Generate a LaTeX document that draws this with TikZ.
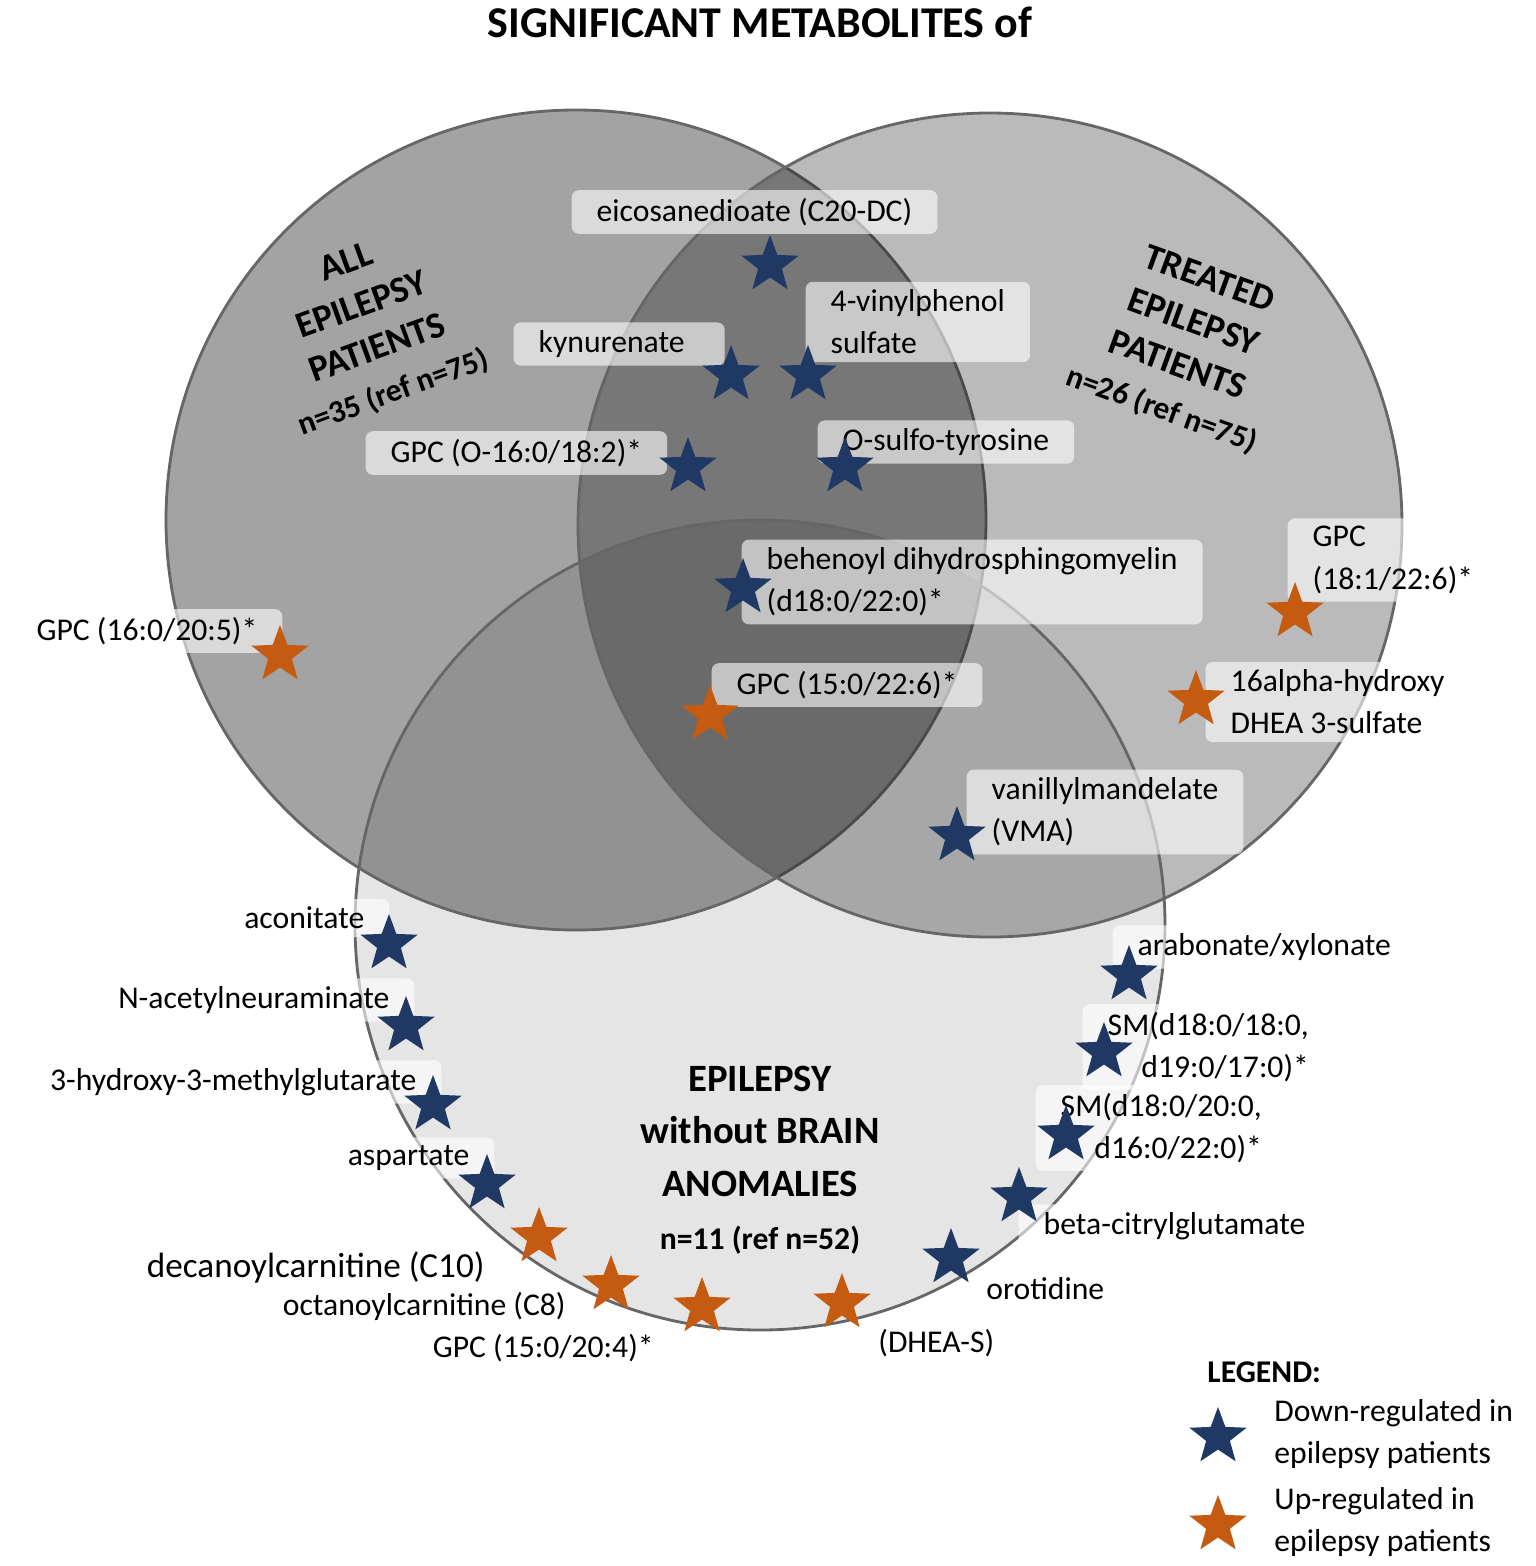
\documentclass[tikz,border=0pt]{standalone}
\usepackage{fontspec}
\setmainfont{Carlito}
\usetikzlibrary{shapes.geometric}
\definecolor{downblue}{HTML}{1F3864}
\definecolor{uporange}{HTML}{C55A11}
\tikzset{
  dstar/.style={star, star points=5, star point ratio=2.4, minimum size=0.6cm, inner sep=0pt, fill=downblue},
  ustar/.style={dstar, fill=uporange},
  lbl/.style={fill=white, fill opacity=0.6, text opacity=1, rounded corners=2pt, inner xsep=0.25cm, inner ysep=0.08cm, align=left, font=\fontsize{9}{12}\selectfont},
  txt/.style={font=\fontsize{9}{12}\selectfont, align=left},
  grp/.style={font=\fontsize{10.5}{13}\selectfont\bfseries, align=center}
}
\begin{document}
\begin{tikzpicture}[x=0.01cm,y=-0.01cm]
\useasboundingbox (0,0) rectangle (1535,1566);
\node[font=\fontsize{12.5}{14}\selectfont\bfseries] (title) at (760,22) {SIGNIFICANT METABOLITES of};

% circles
\fill[black, opacity=0.1] (760,925) circle (405);
\filldraw[fill=black, fill opacity=0.36, draw=black!60, line width=0.8pt] (576,520) circle (410);
\filldraw[fill=black, fill opacity=0.27, draw=black!60, line width=0.8pt] (990,525) circle (412);
\draw[black!60, line width=0.8pt] (760,925) circle (405);

\node[grp, rotate=20] (all) at (370,328) {ALL\\EPILEPSY\\PATIENTS\\{\fontsize{9}{11}\selectfont n=35 (ref n=75)}};
\node[grp, rotate=-20] (trt) at (1185,345) {TREATED\\EPILEPSY\\PATIENTS\\{\fontsize{9}{11}\selectfont n=26 (ref n=75)}};
\node[grp, font=\fontsize{11}{15}\selectfont\bfseries] (nba) at (760,1160) {EPILEPSY\\without BRAIN\\ANOMALIES\\{\fontsize{9}{12}\selectfont n=11 (ref n=52)}};

% labels in the circles
\node[lbl, anchor=west] (eic) at (571,212) {eicosanedioate (C20-DC)};
\node[lbl, anchor=west] (kyn) at (513,344) {kynurenate\hspace{0.15cm}};
\node[lbl, anchor=west] (vin) at (805,322) {4-vinylphenol\hspace{0.3cm}\\sulfate};
\node[lbl, anchor=west] (gpo) at (365,453) {GPC (O-16:0/18:2)*};
\node[lbl, anchor=west] (sul) at (817,442) {O-sulfo-tyrosine};
\node[lbl, anchor=west] (beh) at (741,582) {behenoyl dihydrosphingomyelin\\(d18:0/22:0)*};
\node[lbl, anchor=west] (g15) at (711,685) {GPC (15:0/22:6)*};
\node[lbl, anchor=east] (g16) at (283,631) {GPC (16:0/20:5)*};
\node[lbl, anchor=west] (g18) at (1287,560) {GPC\\(18:1/22:6)*};
\node[lbl, anchor=west] (dhe) at (1205,702) {16alpha-hydroxy\\DHEA 3-sulfate};
\node[lbl, anchor=west] (vma) at (966,812) {vanillylmandelate\\(VMA)};

\node[dstar] (s1) at (770,265) {};
\node[dstar] (s2) at (731,375) {};
\node[dstar] (s3) at (808,375) {};
\node[dstar] (s4) at (688,467) {};
\node[dstar] (s5) at (845,467) {};
\node[dstar] (s6) at (743,588) {};
\node[ustar] (s7) at (710,715) {};
\node[ustar] (s8) at (280,655) {};
\node[ustar] (s9) at (1295,612) {};
\node[ustar] (s10) at (1196,700) {};
\node[dstar] (s11) at (957,836) {};

% labels round the bottom circle
\node[lbl, anchor=east] (aco) at (390,918) {aconitate};
\node[lbl, anchor=east] (nac) at (415,1000) {N-acetylneuraminate};
\node[lbl, anchor=east] (hmg) at (442,1082) {3-hydroxy-3-methylglutarate};
\node[lbl, anchor=east] (asp) at (495,1158) {aspartate};
\node[txt, anchor=east, font=\fontsize{10}{12}\selectfont] (c10) at (497,1267) {decanoylcarnitine (C10)};
\node[txt, anchor=east] (c8) at (578,1306) {octanoylcarnitine (C8)};
\node[txt, anchor=east] (g20) at (666,1348) {GPC (15:0/20:4)*};
\node[txt, anchor=west] (dhs) at (866,1343) {(DHEA-S)};
\node[txt, anchor=west] (oro) at (974,1289) {orotidine};
\node[lbl, anchor=west] (cit) at (1018,1226) {beta-citrylglutamate};
\node[lbl, anchor=west, align=right] (sm2) at (1035,1128) {SM(d18:0/20:0,\\d16:0/22:0)*};
\node[lbl, anchor=west, align=right] (sm1) at (1082,1047) {SM(d18:0/18:0,\\d19:0/17:0)*};
\node[lbl, anchor=west] (ara) at (1112,947) {arabonate/xylonate};

\node[dstar] (b1) at (389,944) {};
\node[dstar] (b2) at (406,1026) {};
\node[dstar] (b3) at (433,1105) {};
\node[dstar] (b4) at (487,1184) {};
\node[ustar] (b5) at (539,1237) {};
\node[ustar] (b6) at (611,1285) {};
\node[ustar] (b7) at (702,1307) {};
\node[ustar] (b8) at (842,1303) {};
\node[dstar] (b9) at (951,1258) {};
\node[dstar] (b10) at (1019,1197) {};
\node[dstar] (b11) at (1066,1135) {};
\node[dstar] (b12) at (1104,1052) {};
\node[dstar] (b13) at (1129,975) {};

% legend
\node[anchor=west, font=\fontsize{9}{12}\selectfont\bfseries] (leg) at (1195,1372) {LEGEND:};
\node[dstar] (ld) at (1218,1437) {};
\node[txt, anchor=west] (ldt) at (1262,1434) {Down-regulated in\\epilepsy patients};
\node[ustar] (lu) at (1218,1525) {};
\node[txt, anchor=west] (lut) at (1262,1522) {Up-regulated in\\epilepsy patients};
\end{tikzpicture}
\end{document}
